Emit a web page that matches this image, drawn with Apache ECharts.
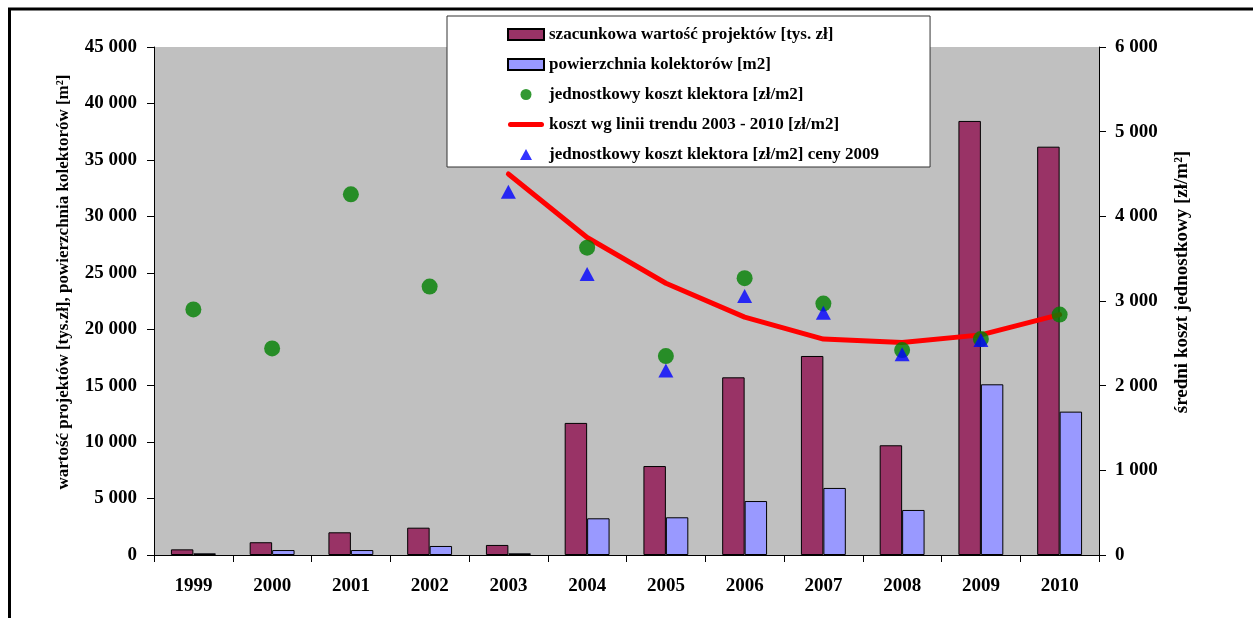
<!DOCTYPE html>
<html>
<head>
<meta charset="utf-8">
<script src="https://cdn.jsdelivr.net/npm/echarts@6/dist/echarts.min.js"></script>
<style>
  html, body { margin: 0; padding: 0; background: #fff; }
  #chart { width: 1253px; height: 618px; }
</style>
</head>
<body>
<div id="chart"></div>
<script>
// Years on the category axis
const years = ['1999', '2000', '2001', '2002', '2003', '2004', '2005', '2006', '2007', '2008', '2009', '2010'];
// Estimated project value [thousand PLN] (left axis)
const projectValue = [500, 1130, 2010, 2420, 890, 11700, 7880, 15740, 17630, 9720, 38450, 36170];
// Collector area [m2] (left axis)
const collectorArea = [150, 440, 440, 800, 150, 3250, 3340, 4780, 5940, 3990, 15120, 12700];
// Unit cost of a collector [PLN/m2] (right axis)
const unitCost = [2900, 2440, 4260, 3170, null, 3630, 2350, 3270, 2970, 2420, 2550, 2840];
// Trend line 2003-2010 [PLN/m2] (right axis)
const trendCost = [null, null, null, null, 4500, 3750, 3210, 2810, 2550, 2510, 2600, 2840];
// Unit cost at 2009 prices [PLN/m2] (right axis)
const unitCost2009 = [null, null, null, null, 4290, 3320, 2180, 3060, 2860, 2370, 2540, null];

const seriesNames = [
  'szacunkowa wartość projektów [tys. zł]',
  'powierzchnia kolektorów [m2]',
  'jednostkowy koszt klektora [zł/m2]',
  'koszt wg linii trendu 2003 - 2010 [zł/m2]',
  'jednostkowy koszt klektora [zł/m2] ceny 2009'
];

const FONT = 'Liberation Serif';
const fmtThousands = v => String(v).replace(/\B(?=(\d{3})+(?!\d))/g, ' ');

// legend glyphs: thick rounded stroke and an upright triangle (aspect kept)
const ICON_LINE = 'path://M2.5,0 L33.5,0 A2.5,2.5 0 0 1 33.5,5 L2.5,5 A2.5,2.5 0 0 1 2.5,0 Z';
const ICON_TRIANGLE = 'path://M6,0 L12,11 L0,11 Z';

const chart = echarts.init(document.getElementById('chart'), null, { renderer: 'canvas' });

chart.setOption({
  animation: false,
  backgroundColor: '#ffffff',
  grid: {
    left: 154, right: 154, top: 47, bottom: 63,
    show: true, backgroundColor: '#c0c0c0', borderWidth: 0
  },
  legend: {
    orient: 'vertical',
    left: 447, top: 16,
    padding: [10, 51, 4, 60],
    itemGap: 13,
    itemWidth: 36, itemHeight: 11,
    symbolKeepAspect: true,
    backgroundColor: '#ffffff',
    borderColor: '#333333', borderWidth: 1,
    textStyle: { fontFamily: FONT, fontWeight: 'bold', fontSize: 17, color: '#000' },
    data: [
      { name: seriesNames[0], icon: 'rect' },
      { name: seriesNames[1], icon: 'rect' },
      { name: seriesNames[2], icon: 'circle' },
      { name: seriesNames[3], icon: ICON_LINE },
      { name: seriesNames[4], icon: ICON_TRIANGLE }
    ]
  },
  xAxis: {
    type: 'category',
    data: years,
    boundaryGap: true,
    axisLine: { show: true, lineStyle: { color: '#000', width: 1 } },
    axisTick: { show: true, length: 7, lineStyle: { color: '#000' } },
    axisLabel: { fontFamily: FONT, fontWeight: 'bold', fontSize: 19, color: '#000', margin: 22 },
    splitLine: { show: false }
  },
  yAxis: [
    {
      type: 'value', min: 0, max: 45000, interval: 5000,
      axisLine: { show: true, lineStyle: { color: '#000', width: 1 } },
      axisTick: { show: true, length: 7, lineStyle: { color: '#000' } },
      axisLabel: { fontFamily: FONT, fontWeight: 'bold', fontSize: 19, color: '#000', margin: 17, formatter: fmtThousands },
      splitLine: { show: false }
    },
    {
      type: 'value', min: 0, max: 6000, interval: 1000,
      position: 'right',
      axisLine: { show: true, lineStyle: { color: '#000', width: 1 } },
      axisTick: { show: true, length: 7, lineStyle: { color: '#000' } },
      axisLabel: { fontFamily: FONT, fontWeight: 'bold', fontSize: 19, color: '#000', margin: 16, formatter: fmtThousands },
      splitLine: { show: false }
    }
  ],
  graphic: [
    // outer frame
    {
      type: 'rect', silent: true, z: 100,
      shape: { x: 9.5, y: 9, width: 1300, height: 700 },
      style: { fill: null, stroke: '#000', lineWidth: 3 }
    },
    // left axis title
    {
      type: 'text', x: 64, y: 282, rotation: Math.PI / 2,
      style: {
        text: 'wartość projektów [tys.zł], powierzchnia kolektorów [m²]',
        font: 'bold 17px "Liberation Serif"', fill: '#000',
        align: 'center', verticalAlign: 'middle'
      }
    },
    // right axis title
    {
      type: 'text', x: 1182, y: 282, rotation: Math.PI / 2,
      style: {
        text: 'średni koszt jednostkowy [zł/m²]',
        font: 'bold 19px "Liberation Serif"', fill: '#000',
        align: 'center', verticalAlign: 'middle'
      }
    }
  ],
  series: [
    {
      name: seriesNames[0], type: 'bar', yAxisIndex: 0,
      data: projectValue,
      barGap: '0%', barCategoryGap: '43%',
      itemStyle: { color: '#993366', borderColor: '#000', borderWidth: 1 },
      z: 2
    },
    {
      name: seriesNames[1], type: 'bar', yAxisIndex: 0,
      data: collectorArea,
      barGap: '0%', barCategoryGap: '43%',
      itemStyle: { color: '#9999ff', borderColor: '#000', borderWidth: 1 },
      z: 2
    },
    {
      name: seriesNames[2], type: 'scatter', yAxisIndex: 1,
      data: unitCost,
      symbol: 'circle', symbolSize: 16,
      itemStyle: { color: '#008000' },
      z: 4
    },
    {
      name: seriesNames[3], type: 'line', yAxisIndex: 1,
      data: trendCost,
      symbol: 'none', showSymbol: false,
      lineStyle: { color: '#ff0000', width: 5, cap: 'round', join: 'round' },
      itemStyle: { color: '#ff0000' },
      z: 3
    },
    {
      name: seriesNames[4], type: 'scatter', yAxisIndex: 1,
      data: unitCost2009,
      symbol: 'triangle', symbolSize: [15, 14],
      itemStyle: { color: '#0000ff' },
      z: 5
    }
  ]
});
</script>
</body>
</html>
